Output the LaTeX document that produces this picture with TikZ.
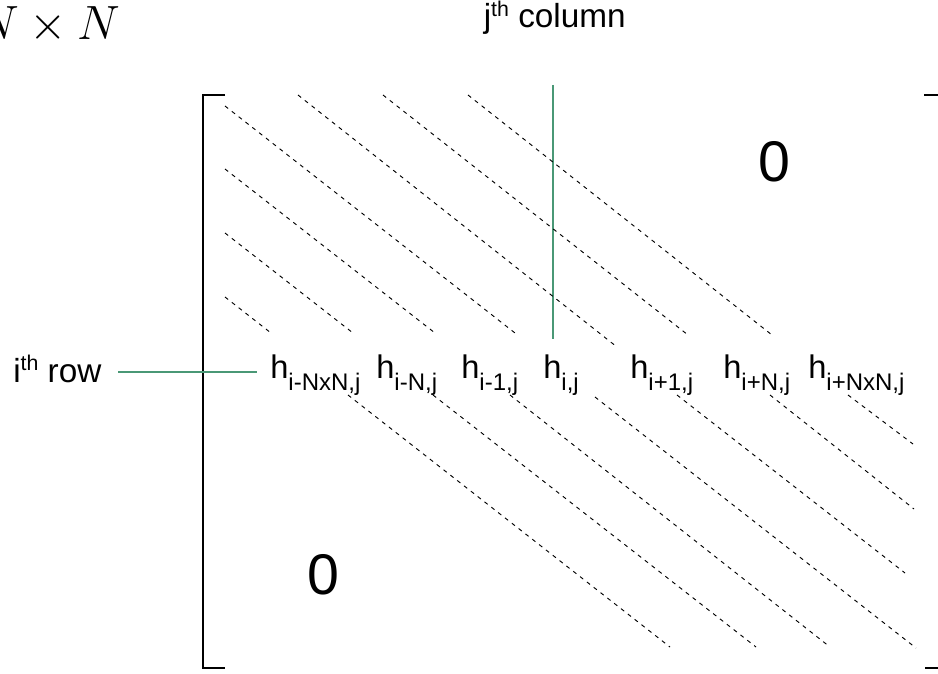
\documentclass[tikz,border=0pt]{standalone}
\usepackage{graphicx}
\usepackage{fontspec}
\setmainfont{Liberation Sans}
\usepackage{xcolor}
\definecolor{verdeguia}{RGB}{74,152,118}
\newcommand{\idx}[1]{\raisebox{-9pt}{\fontsize{18}{18}\selectfont #1}}
\newcommand{\ordth}{\raisebox{8.5pt}{\fontsize{16}{16}\selectfont th}}

\begin{document}
\begin{tikzpicture} %Matriz banda
  [
    x=0.75pt, y=-0.75pt,
    % Definimos los estilos para no repetir codigo
    elem/.style={anchor=base west, inner sep=0pt, font=\fontsize{24.5}{24.5}\selectfont},
    etiq/.style={inner sep=0pt, font=\fontsize{25}{25}\selectfont},
    cero/.style={inner sep=0pt, font=\fontsize{43}{43}\selectfont},
    diag/.style={dash pattern=on 3pt off 3.5pt, line width=0.7pt},
    guia/.style={draw=verdeguia, line width=1pt},
    corchete/.style={line width=1.5pt}
  ]
  \useasboundingbox (0,0) rectangle (938,674);

  \node[anchor=base east, inner sep=0pt, font=\fontsize{24.88}{24.88}\selectfont] (dim) at (121,40) {\scalebox{1.45}{$N \times N$}};
  \node[etiq, anchor=base east] (columna) at (626,28) {j\ordth\ column};
  \node[etiq, anchor=base west] (fila) at (13,382) {i\ordth\ row};

  \node[elem] (h1) at (270,378) {h\idx{i-NxN,j}};
  \node[elem] (h2) at (376,378) {h\idx{i-N,j}};
  \node[elem] (h3) at (461,378) {h\idx{i-1,j}};
  \node[elem] (h4) at (543,378) {h\idx{i,j}};
  \node[elem] (h5) at (630,378) {h\idx{i+1,j}};
  \node[elem] (h6) at (723,378) {h\idx{i+N,j}};
  \node[elem] (h7) at (808,378) {h\idx{i+NxN,j}};

  \node[cero] (cero1) at (774,162) {0};
  \node[cero] (cero2) at (323,575) {0};

  % corchetes
  \draw[corchete] (225,95) -- (203,95) -- (203,668) -- (225,668);
  \draw[corchete] (924,95) -- (952,95) -- (952,668) -- (925,668);

  % guias verdes
  \coordinate (filaA) at (118,372);
  \coordinate (filaB) at (257,372);
  \coordinate (colA) at (553,85);
  \coordinate (colB) at (553,339);
  \draw[guia] (filaA) -- (filaB);
  \draw[guia] (colA) -- (colB);

  % diagonales de arriba
  \draw[diag] (225,297) -- (271,333);
  \draw[diag] (225,233) -- (353,333);
  \draw[diag] (225,169) -- (435,333);
  \draw[diag] (225,106) -- (515,333);
  \draw[diag] (298,95) -- (617,347);
  \draw[diag] (383,95) -- (688,335);
  \draw[diag] (468,95) -- (772,335);

  % diagonales de abajo
  \draw[diag] (348,395) -- (670,647);
  \draw[diag] (433,395) -- (756,647);
  \draw[diag] (510,395) -- (830,647);
  \draw[diag] (595,397) -- (916,648);
  \draw[diag] (677,395) -- (905,573);
  \draw[diag] (770,395) -- (914,509);
  \draw[diag] (848,395) -- (913,444);

\end{tikzpicture}
\end{document}
